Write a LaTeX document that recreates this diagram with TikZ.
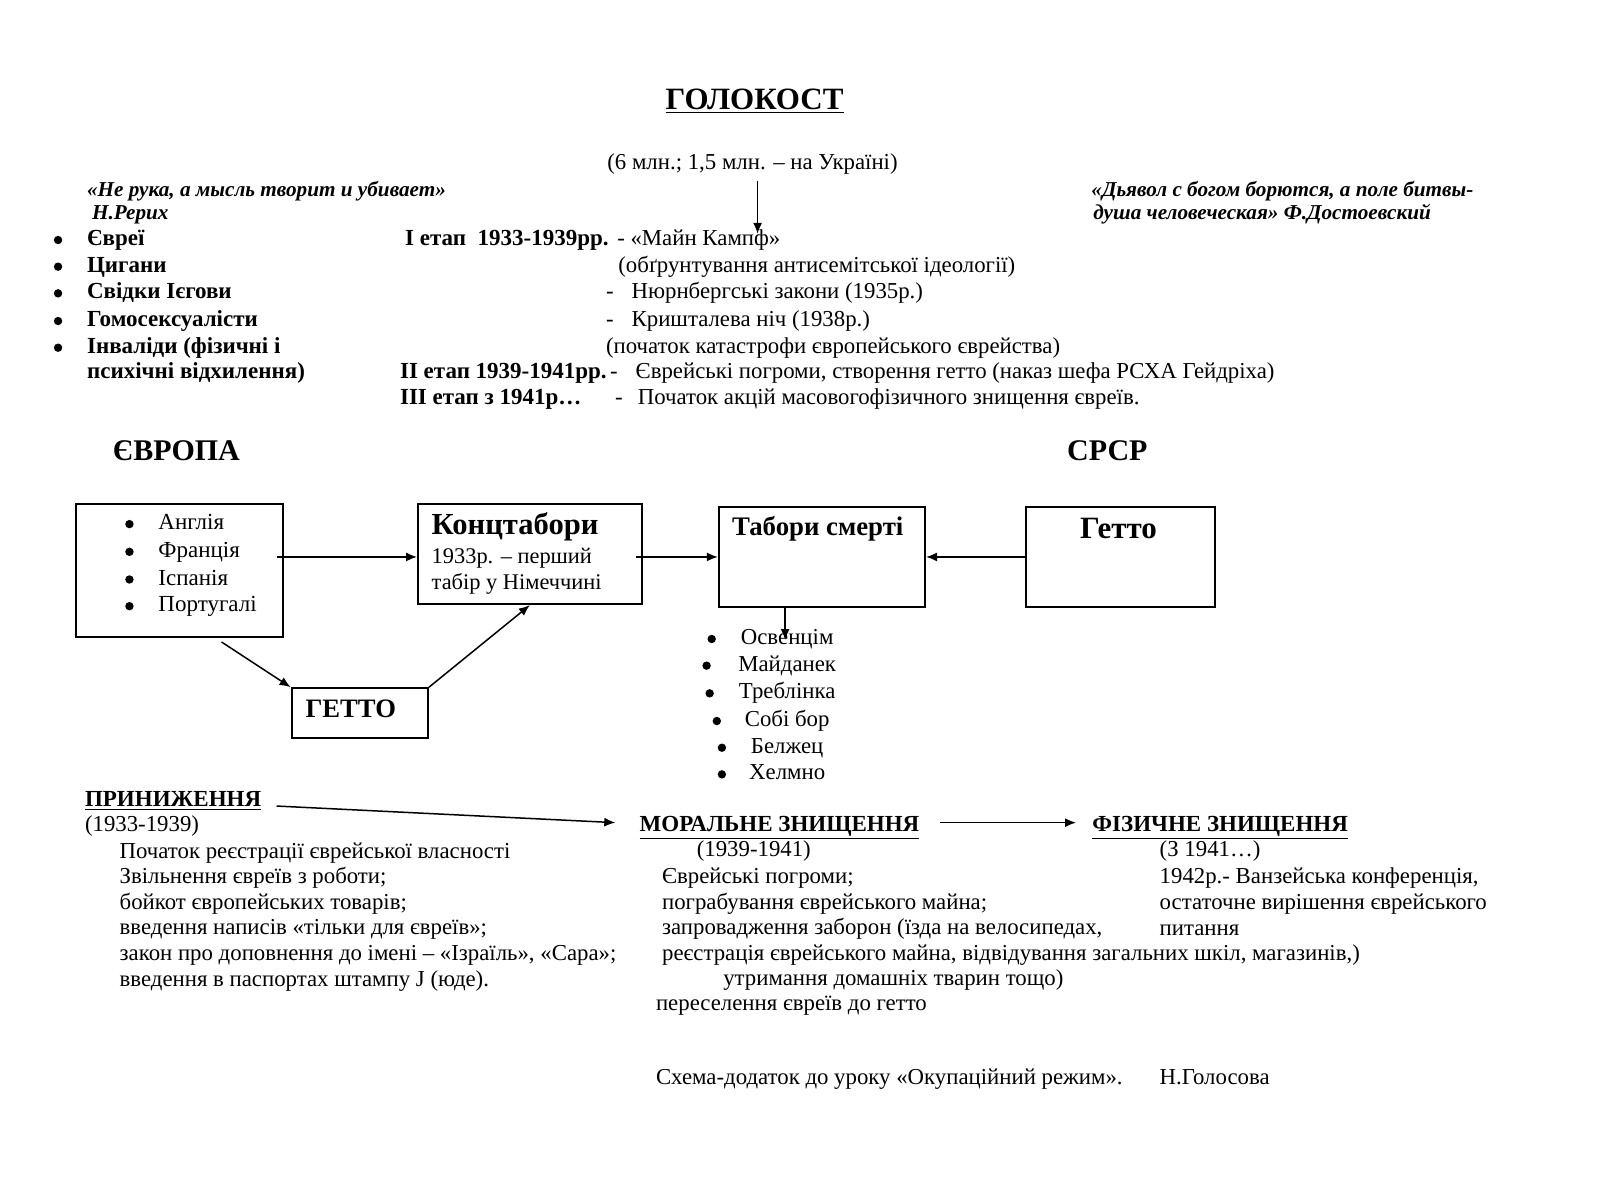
\documentclass[tikz,border=0pt]{standalone}
\usepackage{fontspec}
\setmainfont{Liberation Serif}
\usetikzlibrary{positioning, arrows.meta}

\tikzset{
  txt/.style={anchor=west, inner sep=0pt, text height=8pt, text depth=2.5pt, font=\fontsize{11.4}{13}\selectfont},
  btxt/.style={txt, font=\fontsize{11.5}{13}\selectfont\bfseries},
  quote/.style={txt, font=\fontsize{10.6}{13}\selectfont\bfseries\itshape},
  para/.style={anchor=north west, align=left, inner sep=0pt, font=\fontsize{11.4}{12.8}\selectfont},
  dot/.style={circle, fill, inner sep=0pt, minimum size=4.2pt},
  bul/.style={label={[dot, label distance=12pt]left:{}}},
  box/.style={draw, line width=1pt, inner sep=0pt, anchor=north west},
  arr/.style={-{Latex[length=5.5pt, width=4.5pt]}, line width=0.75pt},
}

\begin{document}
\begin{tikzpicture}[x=0.5098pt, y=-0.5128pt]
\useasboundingbox[fill=white] (0,0) rectangle (1569.2,1170);
% header
\node[btxt, anchor=center, font=\fontsize{15.5}{18}\selectfont\bfseries] (title) at (740,101) {\underline{ГОЛОКОСТ}};
\node[txt, anchor=center] (victims) at (738,160) {(6 млн.; 1,5 млн. – на Україні)};
\node[quote] (rerikh) at (85,186) {«Не рука, а мысль творит и убивает»};
\node[quote] (rerikh2) at (90,209) {Н.Рерих};
\node[quote] (dost) at (1070,186) {«Дьявол с богом борются, а поле битвы-};
\node[quote] (dost2) at (1072,209) {душа человеческая» Ф.Достоевский};
% groups of victims
\foreach \name/\y/\t in {g1/234/Євреї, g2/260/Цигани, g3/286/Свідки Ієгови, g4/313/Гомосексуалісти, g5/339/Інваліди (фізичні і}
  \node[btxt, bul] (\name) at (85,\y) {\t};
\node[btxt] (g6) at (85,364) {психічні відхилення)};
% stages
\node[btxt] (st1) at (397,234) {I етап\ \ 1933-1939рр.};
\node[txt] (kampf) at (605,234) {- «Майн Кампф»};
\node[txt] (ideol) at (606,260) {(обґрунтування антисемітської ідеології)};
\node[txt] (nurnb) at (594,286) {-\hspace{9pt}Нюрнбергські закони (1935р.)};
\node[txt] (kryst) at (594,313) {-\hspace{9pt}Кришталева ніч (1938р.)};
\node[txt] (katas) at (594,339) {(початок катастрофи європейського єврейства)};
\node[btxt] (st2) at (392,364) {II етап 1939-1941рр.};
\node[txt] (pogr) at (598,364) {-\hspace{9pt}Єврейські погроми, створення гетто (наказ шефа РСХА Гейдріха)};
\node[btxt] (st3) at (392,389) {III етап з 1941р…};
\node[txt] (akts) at (603,389) {-\hspace{7.5pt}Початок акцій масовогофізичного знищення євреїв.};
\coordinate (kampfin) at (743,228);
\draw[arr, shorten <=3pt] (victims.south -| kampfin) -- (kampfin);
% regions
\node[btxt, anchor=center, font=\fontsize{15}{16}\selectfont\bfseries] (eur) at (173,444) {ЄВРОПА};
\node[btxt, anchor=center, font=\fontsize{15}{16}\selectfont\bfseries] (ussr) at (1086,444) {СРСР};
% boxes
\node[box, minimum width=103.1pt, minimum height=66.7pt] (countries) at (74,490) {};
\foreach \name/\y/\t in {c1/511/Англія, c2/538/Франція, c3/565/Іспанія, c4/591/Португалі}
  \node[txt, bul, font=\fontsize{11.5}{13}\selectfont] (\name) at (155,\y) {\t};
\node[box, minimum width=111.8pt, minimum height=50.3pt] (konz) at (409,490) {};
\node[btxt, font=\fontsize{15.3}{16}\selectfont\bfseries] (konzt) at (423,516) {Концтабори};
\node[txt, font=\fontsize{11.2}{13}\selectfont] (konz1) at (423,544) {1933р. – перший};
\node[txt, font=\fontsize{11.2}{13}\selectfont] (konz2) at (423,569) {табір у Німеччині};
\node[box, minimum width=103.1pt, minimum height=50.3pt] (death) at (704,493) {};
\node[btxt, anchor=center, font=\fontsize{13.4}{15}\selectfont\bfseries] (deatht) at (802,517) {Табори смерті};
\node[box, minimum width=94.4pt, minimum height=50.3pt] (ussrbox) at (1005,493) {};
\node[btxt, anchor=center, font=\fontsize{15.5}{17}\selectfont\bfseries] (ussrt) at (1097,520) {Гетто};
\node[box, minimum width=68.2pt, minimum height=25.1pt] (ghetto) at (285,670) {};
\node[btxt, anchor=center, font=\fontsize{13.3}{15}\selectfont\bfseries] (ghettot) at (344,694) {ГЕТТО};
% death camps
\foreach \name/\y/\bx/\t in {k1/623/698/Освенцім, k2/649/693/Майданек, k3/676/696/Треблінка, k4/703/703/Собі бор, k5/729/708/Белжец, k6/755/708/Хелмно} {
  \node[txt, anchor=center, font=\fontsize{11.4}{13}\selectfont] (\name) at (772,\y) {\t};
  \node[dot] (\name b) at (\bx,\y) {};
}
\coordinate (campin) at (770,624);
\draw[arr] ([xshift=-3.5pt]countries.east |- death.west) -- (konz.west |- death.west);
\draw[arr] ([xshift=-3.5pt]konz.east |- death.west) -- (death.west);
\draw[arr] (ussrbox.west) -- (death.east);
\draw[arr] (death.south -| campin) -- (campin);
\draw[arr] ([xshift=21pt, yshift=-2pt]countries.south) -- (ghetto.north west);
\draw[arr] (ghetto.north east) -- (konz.south);
% stages of persecution
\node[btxt] (humil) at (83,781) {\underline{ПРИНИЖЕННЯ}};
\node[txt] (humily) at (83,805) {(1933-1939)};
\node[para] (humill) at (117,821) {Початок реєстрації єврейської власності\\
  Звільнення євреїв з роботи;\\
  бойкот європейських товарів;\\
  введення написів «тільки для євреїв»;\\
  закон про доповнення до імені – «Ізраїль», «Сара»;\\
  введення в паспортах штампу J (юде).};
\node[btxt] (moral) at (627,805) {\underline{МОРАЛЬНЕ ЗНИЩЕННЯ}};
\node[txt] (moraly) at (683,830) {(1939-1941)};
\node[para] (morall) at (649,846) {Єврейські погроми;\\
  пограбування єврейського майна;\\
  запровадження заборон (їзда на велосипедах,\\
  реєстрація єврейського майна, відвідування загальних шкіл, магазинів,)};
\node[txt] (moral5) at (709,955) {утримання домашніх тварин тощо)};
\node[txt] (moral6) at (643,980) {переселення євреїв до гетто};
\node[btxt] (fiz) at (1071,805) {\underline{ФІЗИЧНЕ ЗНИЩЕННЯ}};
\node[txt] (fizy) at (1137,830) {(З 1941…)};
\node[para] (fizl) at (1137,846) {1942р.- Ванзейська конференція,\\
  остаточне вирішення єврейського\\
  питання};
\draw[arr] ([xshift=7.5pt, yshift=-2.5pt]humil.east) -- ([xshift=-12pt, yshift=1.5pt]moral.west);
\draw[arr] ([xshift=10pt, yshift=1.5pt]moral.east) -- ([xshift=-8pt, yshift=1.5pt]fiz.west);
% footer
\node[txt] (note) at (643,1052) {Схема-додаток до уроку «Окупаційний режим».};
\node[txt] (author) at (1137,1052) {Н.Голосова};
\end{tikzpicture}
\end{document}
